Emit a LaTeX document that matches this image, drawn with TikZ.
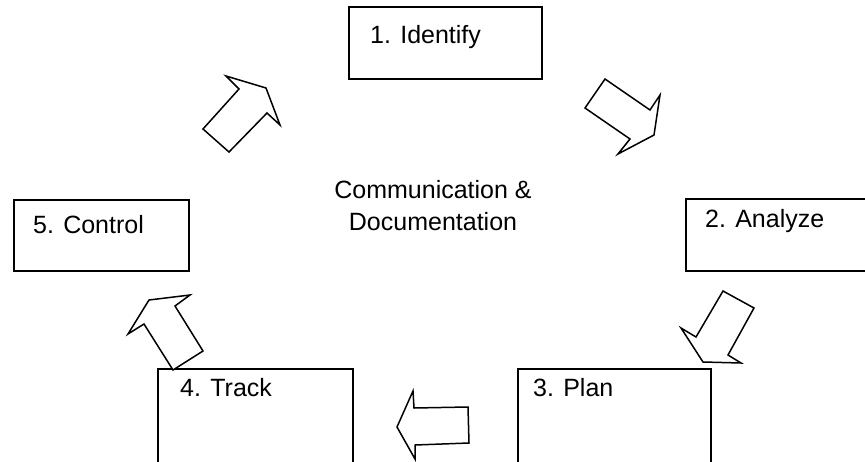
\documentclass[tikz,border=0pt]{standalone}
\usepackage{fontspec}
\setmainfont{Liberation Sans}
\begin{document}
\begin{tikzpicture}[x=1pt,y=-1pt,
  box/.style={draw=black, line width=1.6pt, fill=none, inner sep=0pt, anchor=north west},
  lbl/.style={font=\fontsize{25}{30}\selectfont, inner sep=0pt},
  bigarrow/.style={draw=black, line width=1.5pt, line join=miter, fill=white}]
\useasboundingbox (0,0) rectangle (865,461);
\fill[white] (0,0) rectangle (865,461);
% boxes
\node[box, minimum width=193pt, minimum height=72pt] (b1) at (348,6) {};
\node[box, minimum width=190pt, minimum height=72pt] (b2) at (685,198) {};
\node[box, minimum width=175pt, minimum height=71pt] (b5) at (13,199) {};
\node[box, minimum width=193pt, minimum height=110pt] (b3) at (517,368) {};
\node[box, minimum width=195pt, minimum height=110pt] (b4) at (157,368) {};
% labels
\node[lbl, anchor=base west] (t1) at (370,43) {1. Identify};
\node[lbl, anchor=base west] (t2) at (705,227) {2. Analyze};
\node[lbl, anchor=base west] (t5) at (33,233) {5. Control};
\node[lbl, anchor=base west] (t3) at (533,396) {3. Plan};
\node[lbl, anchor=base west] (t4) at (180,396) {4. Track};
\node[lbl, align=center] (c) at (433,206) {Communication \&\\[2pt]Documentation};
% block arrows
\draw[bigarrow] (203,129) -- (239,89) -- (226,76) -- (266,88) -- (280,125) -- (267,113) -- (229,152) -- cycle;
\draw[bigarrow] (605,79) -- (585,108) -- (630,139) -- (618,154) -- (654,135) -- (660,95) -- (650,110) -- cycle;
\draw[bigarrow] (723,291) -- (754,308) -- (728,355) -- (741,363) -- (703,362) -- (681,328) -- (696,337) -- cycle;
\draw[bigarrow] (468,407) -- (414,408) -- (413,391) -- (397,427) -- (415,459) -- (415,445) -- (469,443) -- cycle;
\draw[bigarrow] (190,295) -- (149,300) -- (128,334) -- (144,324) -- (173,370) -- (203,351) -- (175,306) -- cycle;
\end{tikzpicture}
\end{document}
